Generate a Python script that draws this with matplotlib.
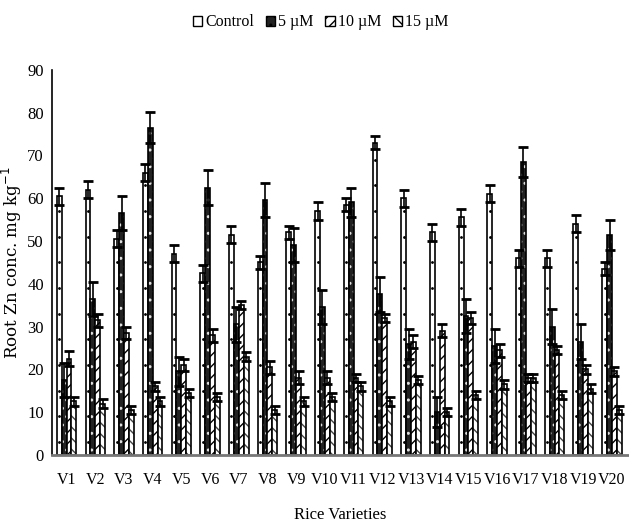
import numpy as np
import matplotlib.pyplot as plt
from matplotlib.patches import Patch

varieties = ["V%d" % i for i in range(1, 21)]
series_labels = ["Control", "5 \u00b5M", "10 \u00b5M", "15 \u00b5M"]

control = [60.5, 62, 50.5, 66, 47, 42.5, 51.5, 45, 52, 57,
           58.5, 73, 60, 52, 55.5, 61, 46, 46, 54, 43.5]
um5 = [17.5, 36.5, 56.5, 76.5, 19.5, 62.5, 30.5, 59.5, 49, 34.5,
       59, 37.5, 26, 10, 32.5, 25.5, 68.5, 30, 26.5, 51.5]
um10 = [22.5, 31.5, 28.5, 16, 21, 28, 35, 20.5, 18, 18,
        18, 32, 26.5, 29, 32, 24.5, 18, 24.5, 20, 19.5]
um15 = [12.5, 12, 10.5, 12.5, 14.5, 13.5, 23, 10.5, 12.5, 13.5,
        16, 12.5, 17.5, 10, 14, 16.5, 18, 14, 15.5, 10.5]

err_control = [2, 2, 2, 2, 2, 2, 2, 1.5, 1.5, 2, 1.5, 1.5, 2, 2, 2, 2, 2, 2, 2, 1.5]
err_um5 = [4, 4, 4, 3.7, 3.5, 4, 4, 4, 4, 4, 3.5, 4, 3.5, 3.5, 4, 4, 3.5, 4, 4, 3.5]
err_um10 = [1.8, 1.5, 1.5, 1, 1.5, 1.5, 1, 1.5, 1.5, 1.5, 1, 1, 1.5, 1.5, 1.5, 1.5, 1, 1, 1, 1]
err_um15 = [1, 1, 1, 1, 1, 1, 1, 1, 1, 1, 1, 1, 1, 1, 1, 1, 1, 1, 1, 1]

plt.rcParams["font.family"] = ["Liberation Serif", "DejaVu Serif"]
plt.rcParams["hatch.linewidth"] = 1.0

fig = plt.figure(figsize=(6.29, 5.29), dpi=100)
ax = fig.add_axes([0.083, 0.14, 0.915, 0.728])

x = np.arange(len(varieties))
w = 0.17
offsets = [-1.5 * w, -0.5 * w, 0.5 * w, 1.5 * w]
values = [control, um5, um10, um15]
errors = [err_control, err_um5, err_um10, err_um15]
faces = ["white", "#222222", "white", "white"]
hatches = ["", "..", "///", "\\\\\\"]
hatch_cols = ["black", "#dddddd", "black", "#444444"]

for vals, errs, off, fc, h, hc in zip(values, errors, offsets, faces, hatches, hatch_cols):
    ax.bar(x + off, vals, w, color=fc, edgecolor=hc, hatch=h, linewidth=0)
    ax.bar(x + off, vals, w, fill=False, edgecolor="black", linewidth=1.2)
    ax.errorbar(x + off, vals, yerr=errs, fmt="none", ecolor="black",
                elinewidth=1.2, capsize=3.5, capthick=2)

# sparse dots down the middle of the control bars
for xi, v in zip(x - 1.5 * w, control):
    dots = np.arange(3, v - 2, 6)
    ax.plot(np.full(len(dots), xi), dots, ls="none", marker=".", ms=2, color="black")

ax.set_xlim(-0.5, 19.55)
ax.set_ylim(0, 90)
ax.set_yticks(np.arange(0, 91, 10))
ax.set_xticks(x)
ax.set_xticklabels(varieties, fontsize=11.5)
ax.tick_params(axis="y", labelsize=12, length=0, pad=6)
ax.tick_params(axis="x", length=0, pad=12)
for s in ["top", "right"]:
    ax.spines[s].set_visible(False)
ax.spines["left"].set_linewidth(1.2)
ax.spines["bottom"].set_color("#777777")
ax.spines["bottom"].set_linewidth(2)

ax.set_xlabel("Rice Varieties", fontsize=12, labelpad=14)
ax.set_ylabel("Root Zn conc. mg kg$^{-1}$", fontsize=12, family="DejaVu Serif", labelpad=2)

handles = [Patch(facecolor=fc, edgecolor="black", hatch=h) for fc, h in zip(faces, hatches)]
fig.legend(handles, series_labels, loc="upper center", ncol=4, frameon=False,
           fontsize=11.5, bbox_to_anchor=(0.51, 1.0), handlelength=0.6, handleheight=0.6,
           handletextpad=0.2, columnspacing=0.7)

fig.savefig("out.png", dpi=100)
